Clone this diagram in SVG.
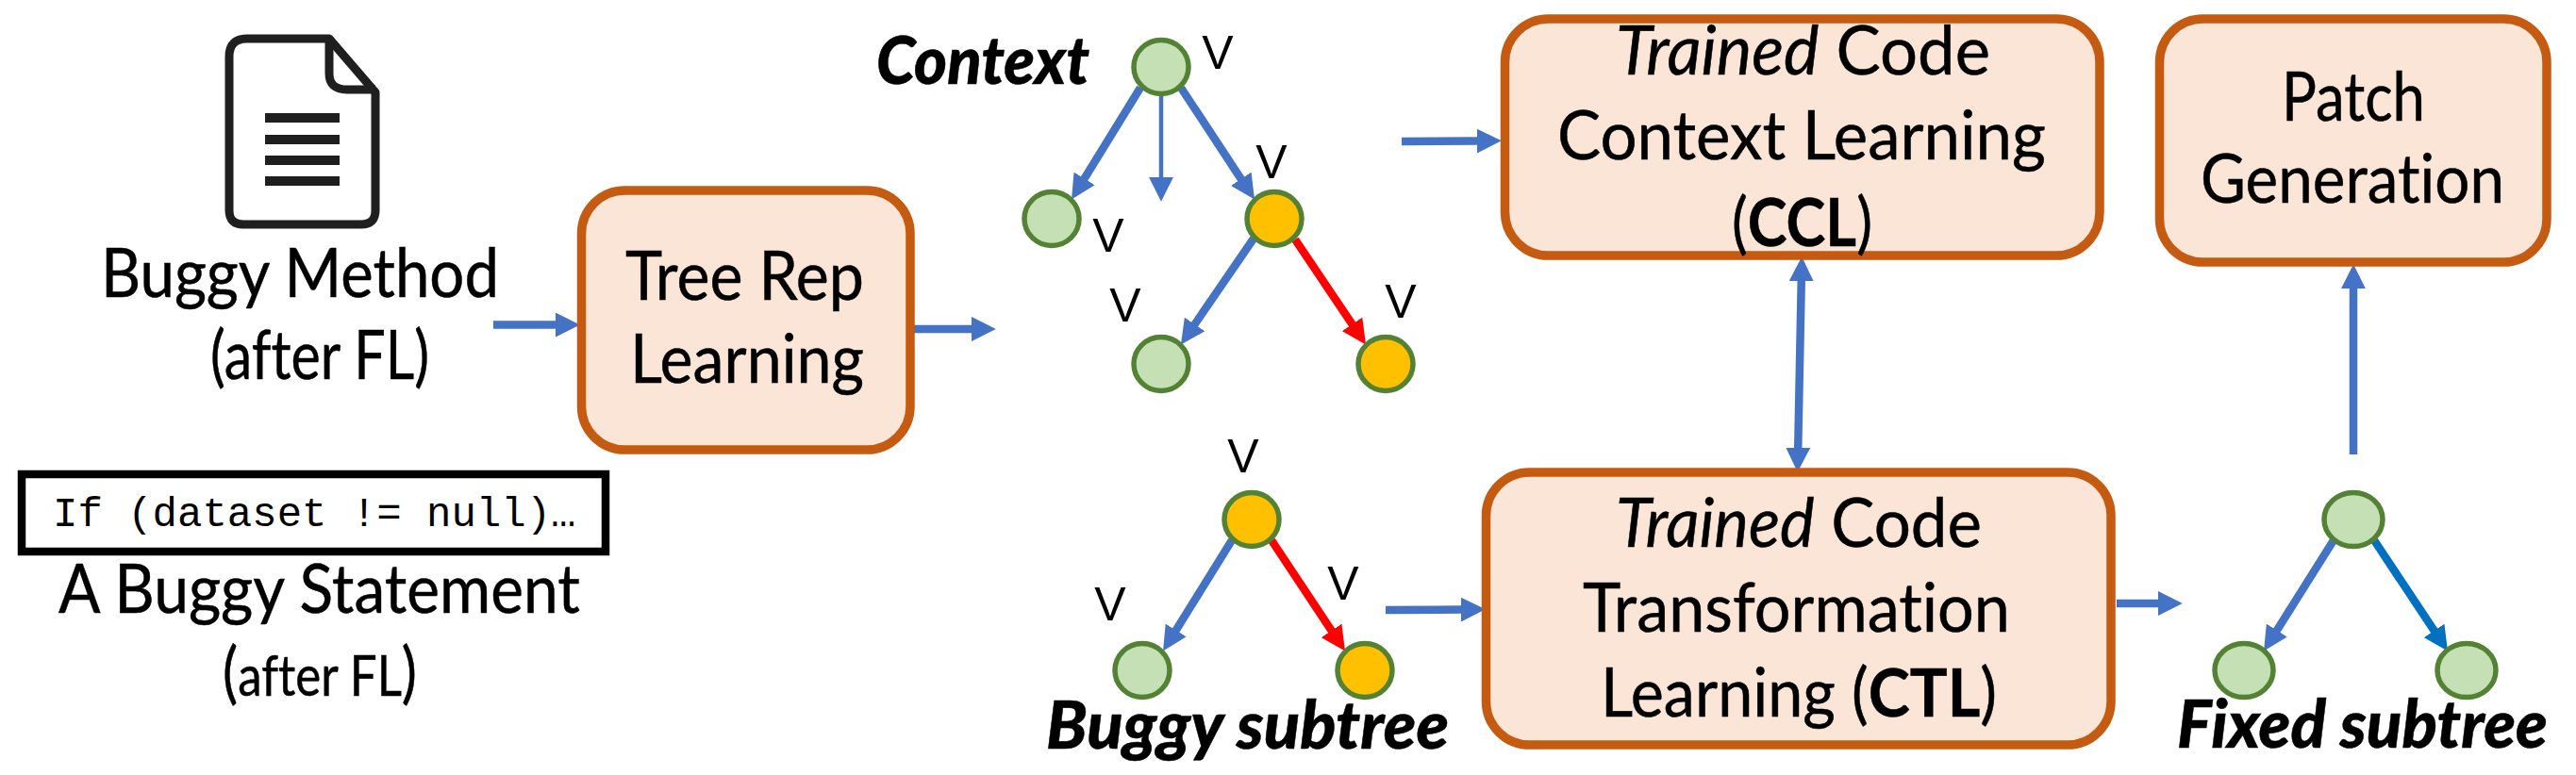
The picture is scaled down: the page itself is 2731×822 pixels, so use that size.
<svg xmlns="http://www.w3.org/2000/svg" width="2731" height="822" viewBox="0 0 2731 822">
<style>
text{font-family:"Lato","Carlito","Noto Sans",sans-serif;fill:#000;font-size:71px;font-variant-ligatures:none;stroke:#000;stroke-width:.5}
.box{fill:#FBE5D6;stroke:#C55A11;stroke-width:9.5}
.v{font-family:"Liberation Sans",Arial,sans-serif;font-size:50px;text-anchor:middle;stroke:none}
.cap{font-weight:900;font-style:italic}
.sm{font-size:60px}
.g{fill:#C5E0B4;stroke:#548235;stroke-width:5.5}
.o{fill:#FFC000;stroke:#548235;stroke-width:5.5}
.e{fill:none;stroke-width:8.5}
.blue{stroke:#4472C4}.red{stroke:#FF0000}.dk{stroke:#0070C0}
.doc{fill:#fff;stroke:#1f1f1f;stroke-width:9;stroke-linejoin:round}
</style>
<defs>
<marker id="hb" markerUnits="userSpaceOnUse" markerWidth="26" markerHeight="26" viewBox="0 0 24 24" refX="2" refY="12" orient="auto-start-reverse"><path d="M0,0L24,12L0,24z" fill="#4472C4"/></marker>
<marker id="hr" markerUnits="userSpaceOnUse" markerWidth="26" markerHeight="26" viewBox="0 0 24 24" refX="2" refY="12" orient="auto"><path d="M0,0L24,12L0,24z" fill="#FF0000"/></marker>
<marker id="hd" markerUnits="userSpaceOnUse" markerWidth="26" markerHeight="26" viewBox="0 0 24 24" refX="2" refY="12" orient="auto"><path d="M0,0L24,12L0,24z" fill="#0070C0"/></marker>
</defs>
<g id="connectors">
<line class="e blue" x1="523" y1="344.5" x2="591" y2="344.5" marker-end="url(#hb)"/>
<line class="e blue" x1="969" y1="349" x2="1032" y2="349" marker-end="url(#hb)"/>
<line class="e blue" x1="1209" y1="93" x2="1148.5" y2="191.3" marker-end="url(#hb)"/>
<line class="blue" fill="none" stroke-width="4.5" x1="1231" y1="102" x2="1231" y2="190" marker-end="url(#hb)"/>
<line class="e blue" x1="1252" y1="93" x2="1316.9" y2="191.6" marker-end="url(#hb)"/>
<line class="e blue" x1="1329" y1="253" x2="1265.4" y2="345.8" marker-end="url(#hb)"/>
<line class="e red" x1="1373" y1="254" x2="1434.7" y2="345.7" marker-end="url(#hr)"/>
<line class="e blue" x1="1306" y1="573" x2="1245.6" y2="670.3" marker-end="url(#hb)"/>
<line class="e red" x1="1348" y1="573" x2="1412.8" y2="670.7" marker-end="url(#hr)"/>
<line class="e blue" x1="1486" y1="150" x2="1568" y2="149.5" marker-end="url(#hb)"/>
<line class="e blue" x1="1469" y1="647" x2="1551" y2="646.5" marker-end="url(#hb)"/>
<line class="e blue" x1="1909.8" y1="296" x2="1906.2" y2="477" marker-start="url(#hb)" marker-end="url(#hb)"/>
<line class="e blue" x1="2495" y1="482" x2="2495" y2="304" marker-end="url(#hb)"/>
<line class="e blue" x1="2244" y1="640" x2="2290" y2="640" marker-end="url(#hb)"/>
<line class="e blue" x1="2474" y1="573" x2="2412.7" y2="670.4" marker-end="url(#hb)"/>
<line class="e dk" x1="2517" y1="573" x2="2581.8" y2="670.7" marker-end="url(#hd)"/>
</g>
<g id="buggy-method">
<path class="doc" d="M262,41H349L398,98V223Q398,238 383,238H258Q243,238 243,223V60Q243,41 262,41Z"/>
<path d="M349,41V78Q349,95 368,95H398" fill="none" stroke="#1f1f1f" stroke-width="9"/>
<path d="M281,120h79v10h-79zM281,143h79v10h-79zM281,165h79v10h-79zM281,187h79v10h-79z" fill="#1f1f1f"/>
<text x="107" y="315" textLength="422" lengthAdjust="spacingAndGlyphs">Buggy Method</text>
<text x="223" y="402" textLength="232" lengthAdjust="spacingAndGlyphs">(after FL)</text>
</g>
<g id="buggy-statement">
<rect x="23" y="503" width="619" height="82" fill="#fff" stroke="#000" stroke-width="8.5"/>
<text x="56" y="558" style="font-family:'Liberation Mono',monospace;font-size:44px;stroke:none" fill="#333">If (dataset != null)…</text>
<text x="62" y="650" textLength="553" lengthAdjust="spacingAndGlyphs">A Buggy Statement</text>
<text x="236" y="738" textLength="206" lengthAdjust="spacingAndGlyphs">(<tspan class="sm">after FL</tspan>)</text>
</g>
<g id="tree-rep">
<rect class="box" x="616.5" y="202" width="348.5" height="275" rx="46"/>
<text x="663" y="318" textLength="253" lengthAdjust="spacingAndGlyphs">Tree Rep</text>
<text x="668" y="406" textLength="248" lengthAdjust="spacingAndGlyphs">Learning</text>
</g>
<g id="ccl">
<rect class="box" x="1595.5" y="20" width="630.5" height="251" rx="46"/>
<text x="1713" y="79" textLength="397" lengthAdjust="spacingAndGlyphs"><tspan font-style="italic">Trained</tspan> Code</text>
<text x="1651" y="169" textLength="518" lengthAdjust="spacingAndGlyphs">Context Learning</text>
<text x="1836" y="261" textLength="149" lengthAdjust="spacingAndGlyphs">(<tspan font-weight="700">CCL</tspan>)</text>
</g>
<g id="ctl">
<rect class="box" x="1575.5" y="501" width="662.5" height="289" rx="46"/>
<text x="1713" y="580" textLength="388" lengthAdjust="spacingAndGlyphs"><tspan font-style="italic">Trained</tspan> Code</text>
<text x="1678" y="670" textLength="453" lengthAdjust="spacingAndGlyphs">Transformation</text>
<text x="1697" y="760" textLength="420" lengthAdjust="spacingAndGlyphs">Learning (<tspan font-weight="700">CTL</tspan>)</text>
</g>
<g id="patch">
<rect class="box" x="2289.5" y="20" width="410.5" height="258" rx="46"/>
<text x="2419" y="128" textLength="152" lengthAdjust="spacingAndGlyphs">Patch</text>
<text x="2333" y="215" textLength="322" lengthAdjust="spacingAndGlyphs">Generation</text>
</g>
<text class="cap" x="929" y="89" textLength="226" lengthAdjust="spacingAndGlyphs">Context</text>
<text class="cap" x="1109" y="794" textLength="427" lengthAdjust="spacingAndGlyphs">Buggy subtree</text>
<text class="cap" x="2308" y="793" textLength="393" lengthAdjust="spacingAndGlyphs">Fixed subtree</text>
<g id="n1"><ellipse class="g" cx="1231" cy="71" rx="29" ry="28.5"/><text class="v" x="1291" y="73">V</text></g>
<g id="n2"><ellipse class="g" cx="1115" cy="232" rx="29" ry="28.5"/><text class="v" x="1175" y="267">V</text></g>
<g id="n3"><ellipse class="o" cx="1351" cy="232" rx="29" ry="28.5"/><text class="v" x="1348" y="189">V</text></g>
<g id="n4"><ellipse class="g" cx="1231" cy="386" rx="29" ry="28.5"/><text class="v" x="1193" y="341">V</text></g>
<g id="n5"><ellipse class="o" cx="1469" cy="386" rx="29" ry="28.5"/><text class="v" x="1485" y="337">V</text></g>
<g id="n6"><ellipse class="o" cx="1327" cy="551" rx="29" ry="28.5"/><text class="v" x="1318" y="501">V</text></g>
<g id="n7"><ellipse class="g" cx="1211" cy="711" rx="29" ry="28.5"/><text class="v" x="1177" y="658">V</text></g>
<g id="n8"><ellipse class="o" cx="1447" cy="711" rx="29" ry="28.5"/><text class="v" x="1424" y="636">V</text></g>
<g id="n9"><ellipse class="g" cx="2495" cy="551" rx="31" ry="28.5"/></g>
<g id="n10"><ellipse class="g" cx="2379" cy="711" rx="31" ry="28.5"/></g>
<g id="n11"><ellipse class="g" cx="2615" cy="711" rx="31" ry="28.5"/></g>
</svg>
